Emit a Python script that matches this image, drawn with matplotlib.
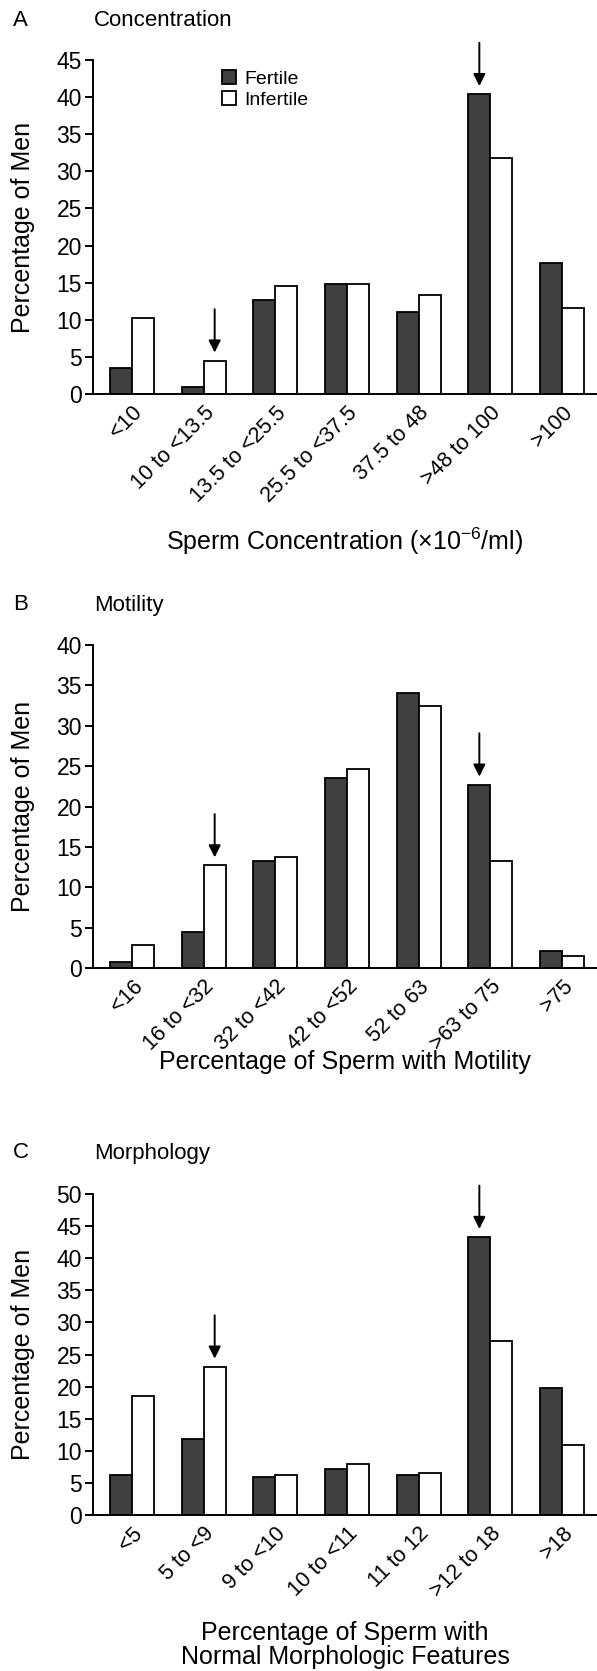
import numpy as np
import matplotlib.pyplot as plt

plt.rcParams['font.family'] = ['Liberation Sans', 'DejaVu Sans']

# A: concentration
conc_labels = ['<10', '10 to <13.5', '13.5 to <25.5', '25.5 to <37.5',
               '37.5 to 48', '>48 to 100', '>100']
conc_fertile = [3.5, 0.9, 12.6, 14.8, 11.0, 40.4, 17.7]
conc_infertile = [10.3, 4.5, 14.5, 14.8, 13.3, 31.8, 11.6]

# B: motility
mot_labels = ['<16', '16 to <32', '32 to <42', '42 to <52', '52 to 63',
              '>63 to 75', '>75']
mot_fertile = [0.7, 4.4, 13.3, 23.5, 34.0, 22.7, 2.1]
mot_infertile = [2.9, 12.7, 13.7, 24.6, 32.4, 13.3, 1.5]

# C: morphology
morph_labels = ['<5', '5 to <9', '9 to <10', '10 to <11', '11 to 12',
                '>12 to 18', '>18']
morph_fertile = [6.3, 11.9, 5.9, 7.1, 6.3, 43.3, 19.8]
morph_infertile = [18.6, 23.1, 6.2, 8.0, 6.5, 27.1, 10.9]

# arrows: (category index, which bar)
conc_arrows = [(1, 'infertile'), (5, 'fertile')]
mot_arrows = [(1, 'infertile'), (5, 'fertile')]
morph_arrows = [(1, 'infertile'), (5, 'fertile')]

W, H = 597, 1671
BAR_W = 0.307


def panel(fig, top, zero, letter, title, labels, fertile, infertile, ymax,
          xlabel, xlabel_y, arrows, title_y, legend=False):
    rect = [93 / W, 1 - zero / H, 1 - 93 / W, (zero - top) / H]
    ax = fig.add_axes(rect)
    x = np.arange(len(labels))
    ax.bar(x - BAR_W / 2, fertile, BAR_W, color='#404040', edgecolor='black',
           linewidth=1.3, label='Fertile')
    ax.bar(x + BAR_W / 2, infertile, BAR_W, color='white', edgecolor='black',
           linewidth=1.3, label='Infertile')
    ax.set_xlim(-0.544, 6.488)
    ax.set_ylim(0, ymax)
    ax.set_yticks(np.arange(0, ymax + 1, 5))
    ax.set_xticks(x)
    ax.set_xticklabels(labels, rotation=45, ha='right', va='top',
                       rotation_mode='anchor', fontsize=15.5)
    ax.tick_params(axis='x', length=0, pad=6)
    ax.tick_params(axis='y', length=6, width=1.4, pad=2, labelsize=16.5)
    for s in ['top', 'right']:
        ax.spines[s].set_visible(False)
    for s in ['left', 'bottom']:
        ax.spines[s].set_linewidth(1.4)
    ax.set_ylabel('Percentage of Men', fontsize=18)
    ax.yaxis.set_label_coords(-0.115, 0.5)

    # x label placed in figure pixels
    fig.text((93 + W) / 2 / W, 1 - xlabel_y / H, xlabel, ha='center',
             va='center', fontsize=18, linespacing=1.05)

    # arrows over the cutoff bars
    for i, which in arrows:
        if which == 'fertile':
            xa, val = i - BAR_W / 2, fertile[i]
        else:
            xa, val = i + BAR_W / 2, infertile[i]
        ax.annotate('', xy=(xa, val), xytext=(0, 37), textcoords='offset points',
                    arrowprops=dict(arrowstyle='-|>', color='black', lw=1.4,
                                    shrinkA=0, shrinkB=5.8, mutation_scale=18))

    fig.text(13 / W, 1 - title_y / H, letter, va='center', fontsize=16)
    fig.text(94 / W, 1 - title_y / H, title, va='center', fontsize=16)

    if legend:
        ax.legend(loc='upper left', bbox_to_anchor=(222 / W, 1 - 70 / H),
                  bbox_transform=fig.transFigure, frameon=False, fontsize=14,
                  handlelength=0.7, handleheight=0.7, handletextpad=0.45,
                  borderpad=0, borderaxespad=0, labelspacing=0.2)
    return ax


def main():
    fig = plt.figure(figsize=(W / 100, H / 100), dpi=100)

    panel(fig, 60, 394, 'A', 'Concentration', conc_labels, conc_fertile,
          conc_infertile, 45, 'Sperm Concentration (×10$\\mathregular{^{-6}}$/ml)',
          541, conc_arrows, 21, legend=True)
    panel(fig, 645, 968, 'B', 'Motility', mot_labels, mot_fertile,
          mot_infertile, 40, 'Percentage of Sperm with Motility',
          1062, mot_arrows, 605)
    panel(fig, 1194, 1515, 'C', 'Morphology', morph_labels, morph_fertile,
          morph_infertile, 50,
          'Percentage of Sperm with\nNormal Morphologic Features',
          1645, morph_arrows, 1153)

    fig.savefig('out.png', dpi=100)


if __name__ == '__main__':
    main()
